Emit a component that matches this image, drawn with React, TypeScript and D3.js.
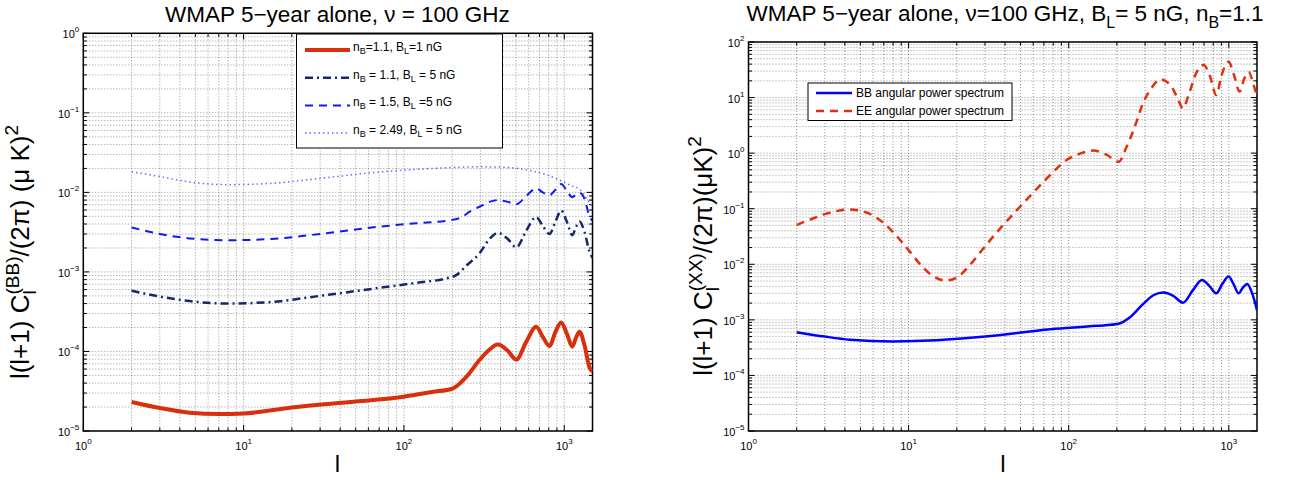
import React from 'react';
import * as d3 from 'd3';

const FONT = '"Liberation Sans", Arial, Helvetica, sans-serif';

type Pt = [number, number];

// x-axis decades (multipole l) and y-axis decades
const xTickExps = [0, 1, 2, 3];
const leftYExps = [-5, -4, -3, -2, -1, 0];
const rightYExps = [-5, -4, -3, -2, -1, 0, 1, 2];

// Left panel: BB spectra, [l, l(l+1)C_l/2pi (muK^2)]
const bbNb11B1: Pt[] = [[2,2.32e-5],[3,1.95e-5],[4.6,1.7e-5],[7,1.63e-5],[10,1.66e-5],[20,1.98e-5],[50,2.35e-5],[100,2.7e-5],[150,3.1e-5],[200,3.4e-5],[245,4.8e-5],[296,7.8e-5],[342,1.06e-4],[385,1.22e-4],[444,1.02e-4],[502,7.9e-5],[579,1.32e-4],[668,2.04e-4],[734,1.53e-4],[809,1.17e-4],[881,1.76e-4],[956,2.32e-4],[1037,1.68e-4],[1122,1.15e-4],[1186,1.5e-4],[1244,1.77e-4],[1337,1.2e-4],[1436,6.3e-5],[1500,5.6e-5]];
const bbNb11B5: Pt[] = [[2,5.8e-4],[3,4.9e-4],[4.6,4.3e-4],[8,4.0e-4],[15,4.2e-4],[30,5.0e-4],[70,6.3e-4],[120,7.3e-4],[184,8.3e-4],[212,9.1e-4],[245,1.2e-3],[296,1.71e-3],[342,2.6e-3],[385,3.1e-3],[444,2.6e-3],[502,2.04e-3],[579,3.3e-3],[668,4.9e-3],[734,3.8e-3],[809,3.0e-3],[881,4.3e-3],[956,5.9e-3],[1037,4.3e-3],[1122,2.9e-3],[1186,3.7e-3],[1244,4.3e-3],[1337,3.2e-3],[1436,1.8e-3],[1500,1.5e-3]];
const bbNb15B5: Pt[] = [[2,3.63e-3],[3,3.0e-3],[4.6,2.64e-3],[8,2.5e-3],[15,2.6e-3],[30,3.0e-3],[70,3.7e-3],[120,4.1e-3],[184,4.4e-3],[230,4.9e-3],[260,5.8e-3],[296,6.6e-3],[342,7.6e-3],[385,8.0e-3],[444,7.6e-3],[502,7.1e-3],[579,9.0e-3],[668,1.12e-2],[734,1.0e-2],[809,9.2e-3],[881,1.08e-2],[956,1.27e-2],[1037,1.05e-2],[1122,8.7e-3],[1186,9.5e-3],[1244,9.9e-3],[1337,8.3e-3],[1436,5.0e-3],[1500,4.4e-3]];
const bbNb249B5: Pt[] = [[2,1.82e-2],[3,1.58e-2],[4.6,1.35e-2],[8,1.25e-2],[15,1.3e-2],[30,1.5e-2],[70,1.8e-2],[150,2.0e-2],[296,2.1e-2],[450,2.05e-2],[600,1.9e-2],[750,1.7e-2],[956,1.4e-2],[1122,1.2e-2],[1244,1.1e-2],[1400,8.0e-3],[1500,6.5e-3]];

// Right panel: BB and EE spectra for B_L = 5 nG, n_B = 1.1
const bbRight: Pt[] = [[2,6.0e-4],[3,5.0e-4],[4.3,4.4e-4],[8,4.1e-4],[15,4.3e-4],[30,5.0e-4],[77,6.8e-4],[150,7.8e-4],[205,8.5e-4],[240,1.1e-3],[290,1.9e-3],[340,2.8e-3],[391,3.1e-3],[450,2.7e-3],[518,2.04e-3],[600,3.5e-3],[680,5.2e-3],[760,4.0e-3],[836,3.0e-3],[910,4.4e-3],[997,6.0e-3],[1075,4.3e-3],[1150,3.0e-3],[1225,3.8e-3],[1300,4.4e-3],[1400,3.0e-3],[1500,1.5e-3]];
const eeRight: Pt[] = [[2,0.051],[2.5,0.066],[3,0.08],[3.5,0.09],[4.2,0.097],[5,0.092],[6,0.075],[7,0.055],[8,0.038],[10,0.018],[12,0.0095],[14,0.0063],[17,0.0051],[20,0.0058],[24,0.0095],[30,0.021],[37,0.043],[45,0.08],[60,0.195],[75,0.38],[97,0.75],[120,1.0],[143,1.11],[173,0.93],[205,0.7],[230,1.3],[254,2.6],[294,8.4],[330,15],[373,21.3],[431,16.9],[474,10.4],[518,6.4],[560,11],[631,29],[696,38.6],[760,25],[836,11.1],[900,25],[997,44],[1080,25],[1167,12.8],[1250,22],[1330,29],[1420,18],[1500,10.4]];

const leftLegend = [
  { nb: '=1.1, ', bl: '=1 nG', color: '#d8300c', width: 4, dash: '' },
  { nb: ' = 1.1, ', bl: ' = 5 nG', color: '#15296a', width: 2.5, dash: '8 4 2 4' },
  { nb: ' = 1.5, ', bl: ' =5 nG', color: '#0a1cf0', width: 2, dash: '8 6' },
  { nb: ' = 2.49, ', bl: ' = 5 nG', color: '#6b6bff', width: 1.5, dash: '1.5 3' },
];
const leftSeries = [bbNb11B1, bbNb11B5, bbNb15B5, bbNb249B5];

const rightLegend = [
  { label: 'BB angular power spectrum', color: '#0000ff', width: 2.5, dash: '' },
  { label: 'EE angular power spectrum', color: '#e0300c', width: 2.5, dash: '8 6' },
];
const rightSeries = [bbRight, eeRight];

const sup = (e: number) => String(e).replace('-', '\u2212');

function Axes({ xs, ys, yExps }: { xs: any; ys: any; yExps: number[] }) {
  const [x0, x1] = xs.range();
  const [y1, y0] = ys.range();
  const xMax = xs.domain()[1];
  const yMax = ys.domain()[1];
  const xv: { v: number; major: boolean }[] = [];
  xTickExps.forEach((e) => { for (let k = 1; k <= 9; k++) { const v = k * Math.pow(10, e); if (v <= xMax) xv.push({ v, major: k === 1 }); } });
  const yv: { v: number; major: boolean }[] = [];
  yExps.forEach((e) => { for (let k = 1; k <= 9; k++) { const v = k * Math.pow(10, e); if (v <= yMax * 1.0001) yv.push({ v, major: k === 1 }); } });
  const grid = { stroke: '#000', strokeOpacity: 0.6, strokeWidth: 0.7, strokeDasharray: '1 2' };
  return (
    <g>
      {xv.map((t, i) => <line key={'gx' + i} x1={xs(t.v)} x2={xs(t.v)} y1={y0} y2={y1} {...grid} />)}
      {yv.map((t, i) => <line key={'gy' + i} y1={ys(t.v)} y2={ys(t.v)} x1={x0} x2={x1} {...grid} />)}
      {xv.map((t, i) => {
        const L = t.major ? 6 : 3.5; const x = xs(t.v);
        return <g key={'tx' + i} stroke="#000" strokeWidth={1}><line x1={x} x2={x} y1={y1} y2={y1 - L} /><line x1={x} x2={x} y1={y0} y2={y0 + L} /></g>;
      })}
      {yv.map((t, i) => {
        const L = t.major ? 6 : 3.5; const y = ys(t.v);
        return <g key={'ty' + i} stroke="#000" strokeWidth={1}><line x1={x0} x2={x0 + L} y1={y} y2={y} /><line x1={x1} x2={x1 - L} y1={y} y2={y} /></g>;
      })}
      <rect x={x0} y={y0} width={x1 - x0} height={y1 - y0} fill="none" stroke="#000" strokeWidth={1.5} />
      {xTickExps.map((e) => (
        <text key={'lx' + e} x={xs(Math.pow(10, e))} y={y1 + 19} textAnchor="middle" fontSize={11} fontFamily={FONT}>
          10<tspan dy={-6} fontSize={8}>{sup(e)}</tspan>
        </text>
      ))}
      {yExps.map((e) => (
        <text key={'ly' + e} x={x0 - 4} y={ys(Math.pow(10, e)) + 5} textAnchor="end" fontSize={11} fontFamily={FONT}>
          10<tspan dy={-6} fontSize={8}>{sup(e)}</tspan>
        </text>
      ))}
    </g>
  );
}

export default function App() {
  const xL = d3.scaleLog().domain([1, 1500]).range([83.3, 592.5]);
  const yL = d3.scaleLog().domain([1e-5, 1]).range([431, 33.3]);
  const xR = d3.scaleLog().domain([1, 1500]).range([748.5, 1257]);
  const yR = d3.scaleLog().domain([1e-5, 100]).range([431, 42]);

  const lineL = d3.line<Pt>().x((d) => xL(d[0])).y((d) => yL(d[1])).curve(d3.curveMonotoneX);
  const lineR = d3.line<Pt>().x((d) => xR(d[0])).y((d) => yR(d[1])).curve(d3.curveMonotoneX);

  return (
    <svg width={1302} height={483} style={{ position: 'absolute', left: 0, top: 0, background: '#fff' }} fontFamily={FONT}>
      <rect x={0} y={0} width={1302} height={483} fill="#fff" />
      <defs>
        <clipPath id="clipL"><rect x={83.3} y={33.3} width={592.5 - 83.3} height={431 - 33.3} /></clipPath>
        <clipPath id="clipR"><rect x={748.5} y={42} width={1257 - 748.5} height={431 - 42} /></clipPath>
      </defs>

      {/* Left panel */}
      <text x={337.5} y={22} textAnchor="middle" fontSize={22.5}>WMAP 5{'\u2212'}year alone, {'\u03bd'} = 100 GHz</text>
      <Axes xs={xL} ys={yL} yExps={leftYExps} />
      <g clipPath="url(#clipL)">
        {leftSeries.map((s, i) => (
          <path key={i} d={lineL(s) || ''} fill="none" stroke={leftLegend[i].color} strokeWidth={leftLegend[i].width} strokeDasharray={leftLegend[i].dash || undefined} />
        ))}
      </g>
      <g>
        <rect x={296.5} y={34} width={206} height={114} fill="#fff" stroke="#000" strokeWidth={1} />
        {leftLegend.map((e, i) => {
          const cy = 50 + i * 27.7;
          return (
            <g key={i}>
              <line x1={305} x2={350} y1={cy} y2={cy} stroke={e.color} strokeWidth={e.width} strokeDasharray={e.dash || undefined} />
              <text x={353} y={cy + 1} fontSize={12}>
                n<tspan dy={3} fontSize={9}>B</tspan><tspan dy={-3}>{e.nb}B</tspan><tspan dy={3} fontSize={9}>L</tspan><tspan dy={-3}>{e.bl}</tspan>
              </text>
            </g>
          );
        })}
      </g>
      <text transform="translate(29,252) rotate(-90)" textAnchor="middle" fontSize={26}>
        l(l+1) C<tspan dy={7} fontSize={19}>l</tspan><tspan dx={-4.2} dy={-17} fontSize={19}>(BB)</tspan><tspan dy={10}>/(2{'\u03c0'}) ({'\u03bc'} K)</tspan><tspan dy={-11} fontSize={19}>2</tspan>
      </text>
      <text x={337.5} y={472} textAnchor="middle" fontSize={24}>l</text>

      {/* Right panel */}
      <text x={1005} y={21} textAnchor="middle" fontSize={22.5}>
        WMAP 5{'\u2212'}year alone, {'\u03bd'}=100 GHz, B<tspan dy={7} fontSize={16}>L</tspan><tspan dy={-7}>= 5 nG, n</tspan><tspan dy={7} fontSize={16}>B</tspan><tspan dy={-7}>=1.1</tspan>
      </text>
      <Axes xs={xR} ys={yR} yExps={rightYExps} />
      <g clipPath="url(#clipR)">
        {rightSeries.map((s, i) => (
          <path key={i} d={lineR(s) || ''} fill="none" stroke={rightLegend[i].color} strokeWidth={rightLegend[i].width} strokeDasharray={rightLegend[i].dash || undefined} />
        ))}
      </g>
      <g>
        <rect x={808} y={83} width={204} height={37.5} fill="#fff" stroke="#000" strokeWidth={1} />
        {rightLegend.map((e, i) => {
          const cy = 93 + i * 18;
          return (
            <g key={i}>
              <line x1={816} x2={852} y1={cy} y2={cy} stroke={e.color} strokeWidth={e.width} strokeDasharray={e.dash || undefined} />
              <text x={856} y={cy + 4} fontSize={12}>{e.label}</text>
            </g>
          );
        })}
      </g>
      <text transform="translate(712,256) rotate(-90)" textAnchor="middle" fontSize={26}>
        l(l+1) C<tspan dy={7} fontSize={19}>l</tspan><tspan dx={-4.2} dy={-17} fontSize={19}>(XX)</tspan><tspan dy={10}>/(2{'\u03c0'})({'\u03bc'}K)</tspan><tspan dy={-11} fontSize={19}>2</tspan>
      </text>
      <text x={1003} y={472} textAnchor="middle" fontSize={24}>l</text>
    </svg>
  );
}
